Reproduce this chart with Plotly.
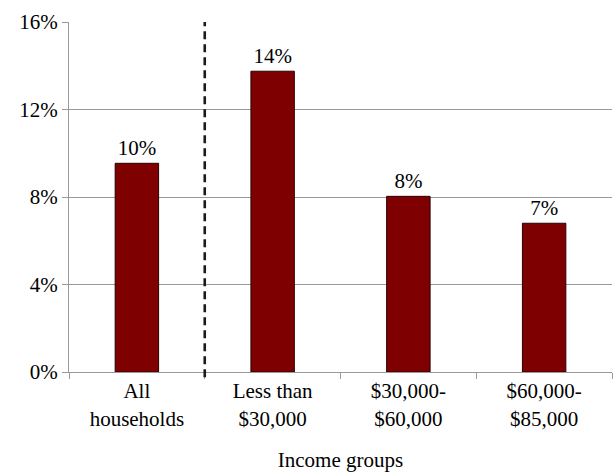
import plotly.graph_objects as go

categories = ["All<br>households", "Less than<br>$30,000", "$30,000-<br>$60,000", "$60,000-<br>$85,000"]
values = [0.0954, 0.1375, 0.0803, 0.068]
y_ticks = [0, 0.04, 0.08, 0.12, 0.16]

FONT = "'Liberation Serif', 'Times New Roman', 'DejaVu Serif', serif"
GRID = "#999999"
FS = 21

fig = go.Figure()
fig.add_trace(go.Bar(
    x=categories, y=values,
    width=0.32,
    marker=dict(color="#7f0000", line=dict(color="#2a0000", width=1)),
    texttemplate="%{y:.0%}", textposition="outside",
    textfont=dict(family=FONT, size=FS, color="black"),
    cliponaxis=False,
))

fig.add_shape(type="line", xref="x", yref="paper", x0=0.5, x1=0.5, y0=-0.015, y1=1,
              line=dict(color="#1a1a1a", width=2.6, dash="8px,5px"))

fig.update_layout(
    width=613, height=472,
    margin=dict(l=69, r=1, t=22, b=100),
    plot_bgcolor="white", paper_bgcolor="white",
    showlegend=False,
    font=dict(family=FONT, size=FS, color="black"),
    bargap=0.68,
    xaxis=dict(
        title=dict(text="Income groups", font=dict(family=FONT, size=FS), standoff=22),
        showline=True, linecolor=GRID, linewidth=1,
        ticks="outside", tickson="boundaries", ticklen=6, tickcolor=GRID,
        tickfont=dict(family=FONT, size=FS),
        showgrid=False,
    ),
    yaxis=dict(
        range=[0, 0.16], tickvals=y_ticks, tickformat=".0%",
        showline=True, linecolor=GRID, linewidth=1,
        ticks="outside", ticklen=6, tickcolor=GRID,
        showgrid=True, gridcolor=GRID, gridwidth=1,
        zeroline=False,
        tickfont=dict(family=FONT, size=FS),
    ),
)

fig.write_html("out.html", config={"displayModeBar": False},
               post_script="document.body.style.margin='0';document.body.style.overflow='hidden';")
